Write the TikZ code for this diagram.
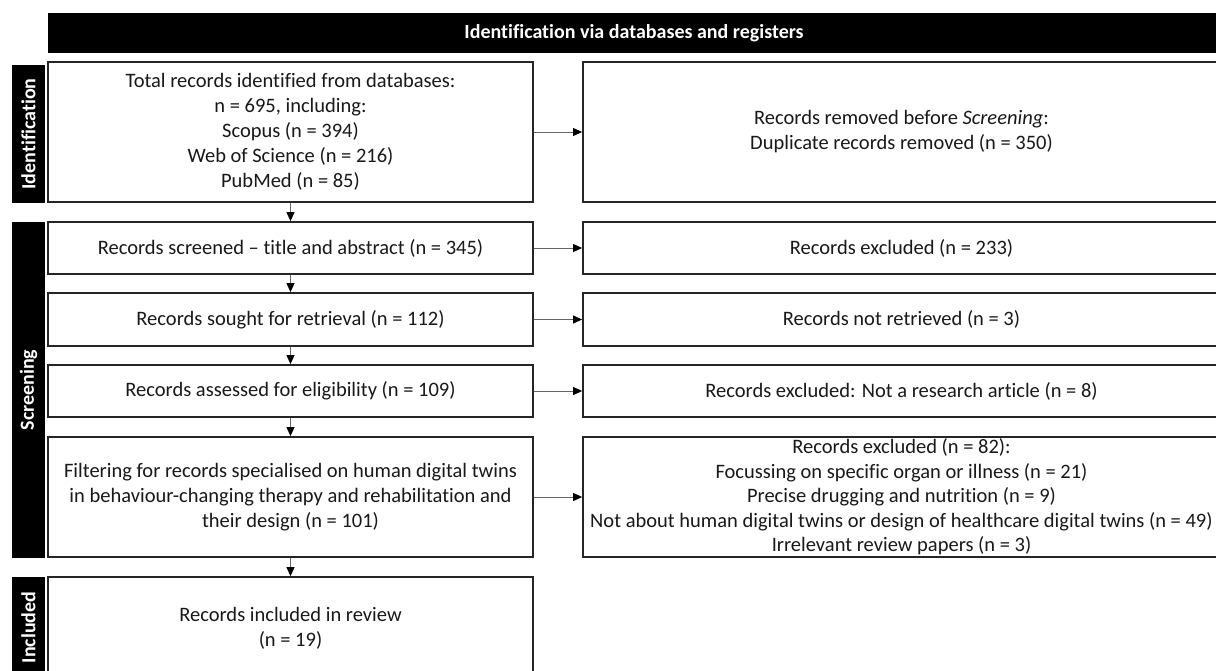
\documentclass[tikz,border=0pt]{standalone}
\usepackage{fontspec}
\setmainfont{Carlito}[Ligatures=NoCommon]
\usetikzlibrary{arrows.meta}
\begin{document}
\begin{tikzpicture}[x=1pt,y=1pt,
  box/.style={draw=black!85, line width=1.8pt, fill=white, align=center, inner sep=0pt,
    font=\fontsize{20.5}{25}\selectfont, text=black!90},
  lbox/.style={box, minimum width=485},
  rbox/.style={box, minimum width=637},
  hdr/.style={fill=black, text=white, inner sep=0pt, font=\bfseries\fontsize{20}{24}\selectfont},
  side/.style={fill=black, text=white, inner sep=0pt, rotate=90, minimum height=33,
    font=\bfseries\fontsize{20}{24}\selectfont},
  arr/.style={draw=black!60, line width=1pt,
    -{Triangle[length=9pt,width=8pt,color=black]}}
]
\useasboundingbox (0,0) rectangle (1216,-670);
\clip (0,0) rectangle (1216,-670);

% header and side labels
\node[hdr, minimum width=1172, minimum height=40] (hdr) at (634,-33) {Identification via databases and registers};
\node[side, minimum width=138] (sid) at (28.5,-134) {Identification};
\node[side, minimum width=336] (sscr) at (28.5,-390) {Screening};
\node[side, minimum width=101] (sinc) at (28.5,-627.5) {Included};

% left column
\node[lbox, minimum height=140] (b1) at (290.5,-132) {Total records identified from databases:\\ n = 695, including:\\ Scopus (n = 394)\\ Web of Science (n = 216)\\ PubMed (n = 85)};
\node[lbox, minimum height=52] (b2) at (290.5,-248) {Records screened -- title and abstract (n = 345)};
\node[lbox, minimum height=53] (b3) at (290.5,-319.5) {Records sought for retrieval (n = 112)};
\node[lbox, minimum height=52] (b4) at (290.5,-391) {Records assessed for eligibility (n = 109)};
\node[lbox, minimum height=120] (b5) at (290.5,-497) {Filtering for records specialised on human digital twins\\ in behaviour-changing therapy and rehabilitation and\\ their design (n = 101)};
\node[lbox, minimum height=103] (b6) at (290.5,-628.5) {Records included in review\\ (n = 19)};

% right column
\node[rbox, minimum height=140] (r1) at (901.5,-132) {Records removed before \textit{Screening}:\\ Duplicate records removed (n = 350)};
\node[rbox, minimum height=52] (r2) at (901.5,-248) {Records excluded (n = 233)};
\node[rbox, minimum height=53] (r3) at (901.5,-319.5) {Records not retrieved (n = 3)};
\node[rbox, minimum height=52] (r4) at (901.5,-391) {Records excluded: Not a research article (n = 8)};
\node[rbox, minimum height=120, text height=0pt] (r5) at (901.5,-497) {};
\node[font=\fontsize{20.5}{24.5}\selectfont, align=center, inner sep=0pt, text=black!90] (r5t) at (r5.center) {Records excluded (n = 82):\\ Focussing on specific organ or illness (n = 21)\\ Precise drugging and nutrition (n = 9)\\ Not about human digital twins or design of healthcare digital twins (n = 49)\\ Irrelevant review papers (n = 3)};

% connectors
\draw[arr] (b1) -- (b2);
\draw[arr] (b2) -- (b3);
\draw[arr] (b3) -- (b4);
\draw[arr] (b4) -- (b5);
\draw[arr] (b5) -- (b6);
\draw[arr] (b1) -- (r1);
\draw[arr] (b2) -- (r2);
\draw[arr] (b3) -- (r3);
\draw[arr] (b4) -- (r4);
\draw[arr] (b5) -- (r5);
\end{tikzpicture}
\end{document}
